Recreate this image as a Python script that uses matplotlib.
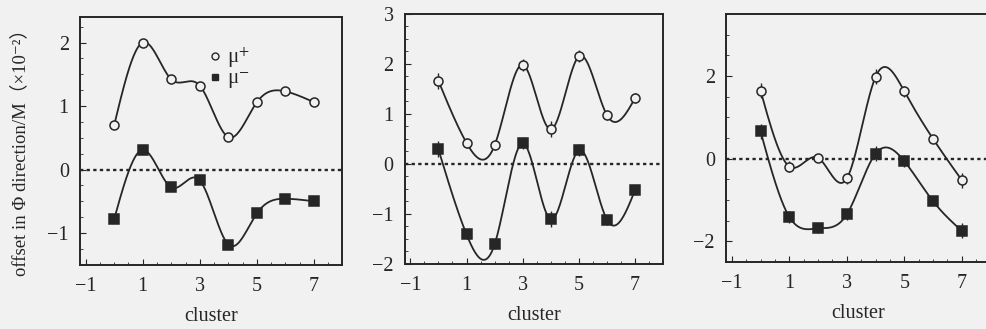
import numpy as np
import matplotlib
matplotlib.use("Agg")
import matplotlib.pyplot as plt
from matplotlib.ticker import MultipleLocator

plt.rcParams['font.family'] = ['Liberation Serif', 'DejaVu Serif', 'Noto Sans CJK SC']
plt.rcParams['mathtext.fontset'] = 'stix'

clusters = [0, 1, 2, 3, 4, 5, 6, 7]

# panel a
mu_plus_a = [0.70, 2.00, 1.42, 1.32, 0.51, 1.06, 1.23, 1.06]
mu_minus_a = [-0.78, 0.31, -0.28, -0.17, -1.18, -0.69, -0.46, -0.50]
# panel b
mu_plus_b = [1.66, 0.42, 0.37, 1.98, 0.69, 2.15, 0.97, 1.32]
mu_minus_b = [0.29, -1.41, -1.61, 0.41, -1.11, 0.27, -1.12, -0.52]
# panel c
mu_plus_c = [1.65, -0.19, 0.02, -0.48, 1.98, 1.63, 0.48, -0.52]
mu_minus_c = [0.66, -1.41, -1.69, -1.35, 0.12, -0.06, -1.03, -1.75]

err_b = [0.16, 0.10, 0.10, 0.12, 0.16, 0.12, 0.10, 0.10]
err_c = [0.18, 0.14, 0.10, 0.14, 0.18, 0.14, 0.10, 0.18]

line_col = '#262626'
bg = '#f1f1f1'


def spline(x, y, n=300):
    # natural cubic spline, just for drawing the smooth curve through points
    x = np.asarray(x, float)
    y = np.asarray(y, float)
    m = len(x)
    h = np.diff(x)
    A = np.zeros((m, m))
    r = np.zeros(m)
    A[0, 0] = A[-1, -1] = 1
    for i in range(1, m - 1):
        A[i, i - 1] = h[i - 1]
        A[i, i] = 2 * (h[i - 1] + h[i])
        A[i, i + 1] = h[i]
        r[i] = 6 * ((y[i + 1] - y[i]) / h[i] - (y[i] - y[i - 1]) / h[i - 1])
    M = np.linalg.solve(A, r)
    xs = np.linspace(x[0], x[-1], n)
    k = np.clip(np.searchsorted(x, xs) - 1, 0, m - 2)
    t1 = x[k + 1] - xs
    t2 = xs - x[k]
    hk = h[k]
    ys = (M[k] * t1 ** 3 + M[k + 1] * t2 ** 3) / (6 * hk) \
        + (y[k] / hk - M[k] * hk / 6) * t1 + (y[k + 1] / hk - M[k + 1] * hk / 6) * t2
    return xs, ys


fig = plt.figure(figsize=(9.87, 3.29), dpi=100)
fig.set_facecolor(bg)

panels = [
    ([0.081, 0.195, 0.266, 0.753], mu_plus_a, mu_minus_a, None, (-1.5, 2.4), 1),
    ([0.410, 0.198, 0.262, 0.760], mu_plus_b, mu_minus_b, err_b, (-2, 3), 1),
    ([0.7356, 0.204, 0.268, 0.753], mu_plus_c, mu_minus_c, err_c, (-2.5, 3.5), 2),
]

axes = []
for rect, yp, ym, err, ylim, ystep in panels:
    ax = fig.add_axes(rect)
    ax.set_facecolor(bg)
    ax.axhline(0, color=line_col, lw=1.7, ls=(0, (1.4, 1.4)), zorder=1)
    for vals, mk, fc in [(yp, 'o', bg), (ym, 's', line_col)]:
        xs, ys = spline(clusters, vals)
        ax.plot(xs, ys, color=line_col, lw=1.3, zorder=2)
        if err is not None:
            ax.errorbar(clusters, vals, yerr=err, fmt='none', ecolor=line_col,
                        elinewidth=1.0, capsize=0, zorder=2)
        ax.plot(clusters, vals, ls='none', marker=mk, ms=6.5, mfc=fc,
                mec=line_col, mew=1.1, zorder=3)
    ax.set_xlim(-1.2, 8.0)
    ax.set_ylim(*ylim)
    ax.xaxis.set_minor_locator(MultipleLocator(0.5))
    ax.yaxis.set_major_locator(MultipleLocator(ystep))
    ax.yaxis.set_minor_locator(MultipleLocator(ystep / 4))
    ax.set_xticks([-1, 1, 3, 5, 7])
    ax.tick_params(which='both', direction='in', colors=line_col, labelsize=14.5,
                   top=False, right=False)
    ax.tick_params(which='major', length=4)
    ax.tick_params(which='minor', length=2)
    ax.tick_params(axis='x', pad=9)
    ax.tick_params(axis='y', pad=8)
    for s in ax.spines.values():
        s.set_color(line_col)
        s.set_linewidth(1.4)
    ax.set_xlabel('cluster', fontsize=14.5, color=line_col, labelpad=8)
    axes.append(ax)

axes[0].set_ylabel('offset in Φ direction/M（×10⁻²）', fontsize=13.5,
                   color=line_col)
axes[0].yaxis.set_label_coords(-0.195, 0.47)

# legend in first panel
h1, = axes[0].plot([], [], ls='none', marker='o', ms=5, mfc=bg, mec=line_col)
h2, = axes[0].plot([], [], ls='none', marker='s', ms=5, mfc=line_col, mec=line_col)
axes[0].legend([h1, h2], ['μ$^{+}$', 'μ$^{-}$'], loc='upper left',
               bbox_to_anchor=(0.45, 0.92), frameon=False, fontsize=15,
               handletextpad=0.2, labelspacing=0.0, handlelength=0.8,
               borderaxespad=0, labelcolor=line_col)

fig.savefig('out.png', dpi=100, facecolor=bg)
